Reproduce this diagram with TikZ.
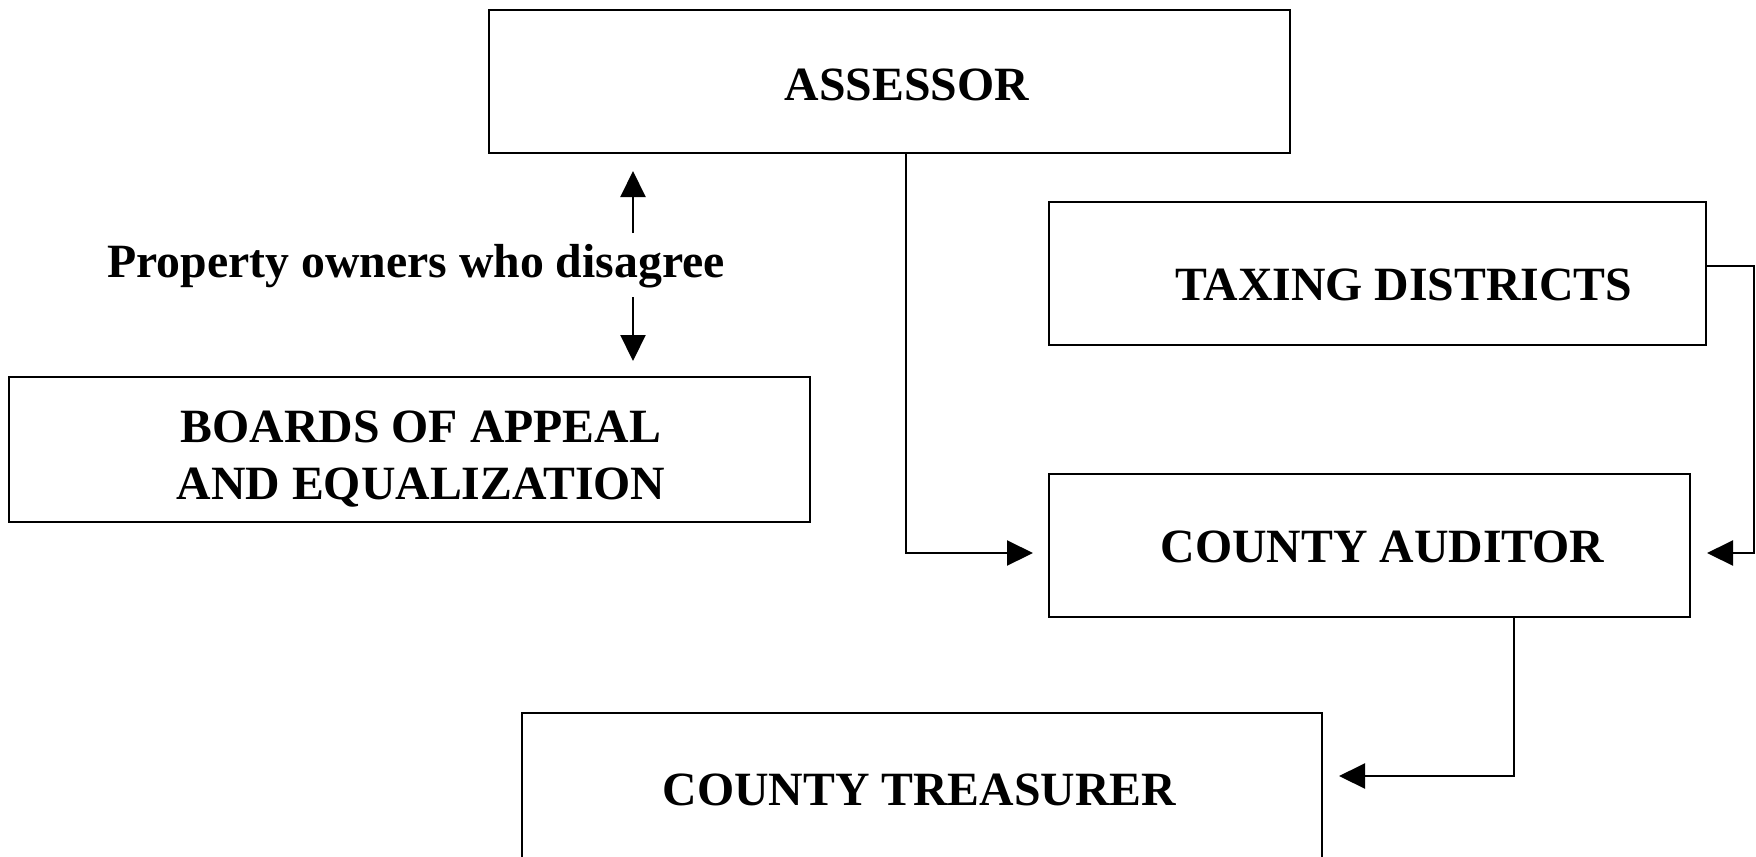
\documentclass[tikz,border=0pt]{standalone}
\usepackage{fontspec}
\setmainfont{Liberation Serif}
\usetikzlibrary{arrows.meta}
\begin{document}
\begin{tikzpicture}[x=0.4pt,y=-0.4pt,
  box/.style={draw,line width=0.85pt,inner sep=0pt,outer sep=0pt,minimum height=57.2pt},
  lbl/.style={inner sep=0pt,font=\fontsize{19.1}{22.8}\selectfont\bfseries,anchor=base},
  conn/.style={line width=0.85pt},
  arr/.style={conn,-{Triangle[length=10.4pt,width=10pt]}}]
\clip (0,0) rectangle (1756,856);
% boxes
\node[box,minimum width=320.4pt] (assessor) at (889.5,81.5) {};
\node[box,minimum width=262.8pt] (taxing) at (1377.5,273.5) {};
\node[box,minimum width=256.4pt] (auditor) at (1369.5,545.5) {};
\node[box,minimum width=320.4pt,minimum height=58pt] (boards) at (409.5,449.5) {};
\node[box,minimum width=320pt,minimum height=80pt] (treasurer) at (922,813) {};
% labels
\node[lbl] (assessor-t) at (907,100) {ASSESSOR};
\node[lbl] (taxing-t) at (1404,300.5) {TAXING DISTRICTS};
\node[lbl] (auditor-t) at (1382.5,562) {COUNTY AUDITOR};
\node[lbl,anchor=center,align=center] (boards-t) at (421,459.5) {BOARDS OF APPEAL\\AND EQUALIZATION};
\node[lbl] (treasurer-t) at (919.5,805) {COUNTY TREASURER};
\node[lbl] (property-t) at (416,277.5) {Property owners who disagree};
% coordinates
\coordinate (pu1) at (633,233);
\coordinate (pu2) at (633,171);
\coordinate (pd1) at (633,297);
\coordinate (pd2) at (633,361);
\coordinate (a1) at (906,553);
\coordinate (a2) at (1033,553);
\coordinate (t1) at (1754,266);
\coordinate (t2) at (1707,553);
\coordinate (u1) at (1514,776);
\coordinate (u2) at (1339,776);
% connectors
\draw[arr] (pu1) -- (pu2);
\draw[arr] (pd1) -- (pd2);
\draw[arr] (a1 |- assessor.south) -- (a1) -- (a2);
\draw[arr] (taxing.east |- t1) -- (t1) |- (t2);
\draw[arr] (u1 |- auditor.south) -- (u1) -- (u2);
\end{tikzpicture}
\end{document}
